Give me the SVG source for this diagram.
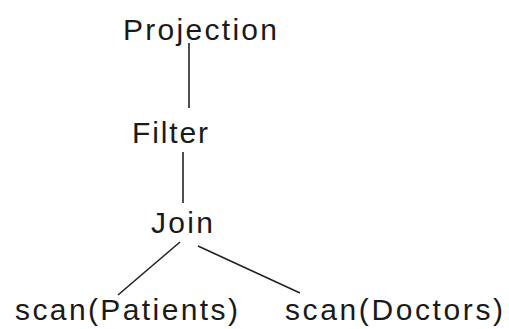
<svg xmlns="http://www.w3.org/2000/svg" width="509" height="329" viewBox="0 0 509 329">
<style>
text{font-family:"Liberation Sans",Arial,sans-serif;font-size:30px;fill:#1a1a1a;}
.c line{stroke:#222;stroke-width:1.6;}
</style>
<rect width="509" height="329" fill="#fff"/>
<g class="c" id="connectors">
<line x1="189" y1="43" x2="189" y2="108"/>
<line x1="183" y1="152" x2="183" y2="203"/>
<line x1="180" y1="242" x2="118" y2="295"/>
<line x1="198" y1="246" x2="300" y2="293"/>
</g>
<g id="projection"><text x="123" y="40" textLength="154" lengthAdjust="spacing">Projection</text></g>
<g id="filter"><text x="132" y="143" textLength="76" lengthAdjust="spacing">Filter</text></g>
<g id="join"><text x="151" y="233" textLength="62" lengthAdjust="spacing">Join</text></g>
<g id="scan-patients"><text x="15" y="320" textLength="223" lengthAdjust="spacing">scan(Patients)</text></g>
<g id="scan-doctors"><text x="285" y="320" textLength="218" lengthAdjust="spacing">scan(Doctors)</text></g>
</svg>
